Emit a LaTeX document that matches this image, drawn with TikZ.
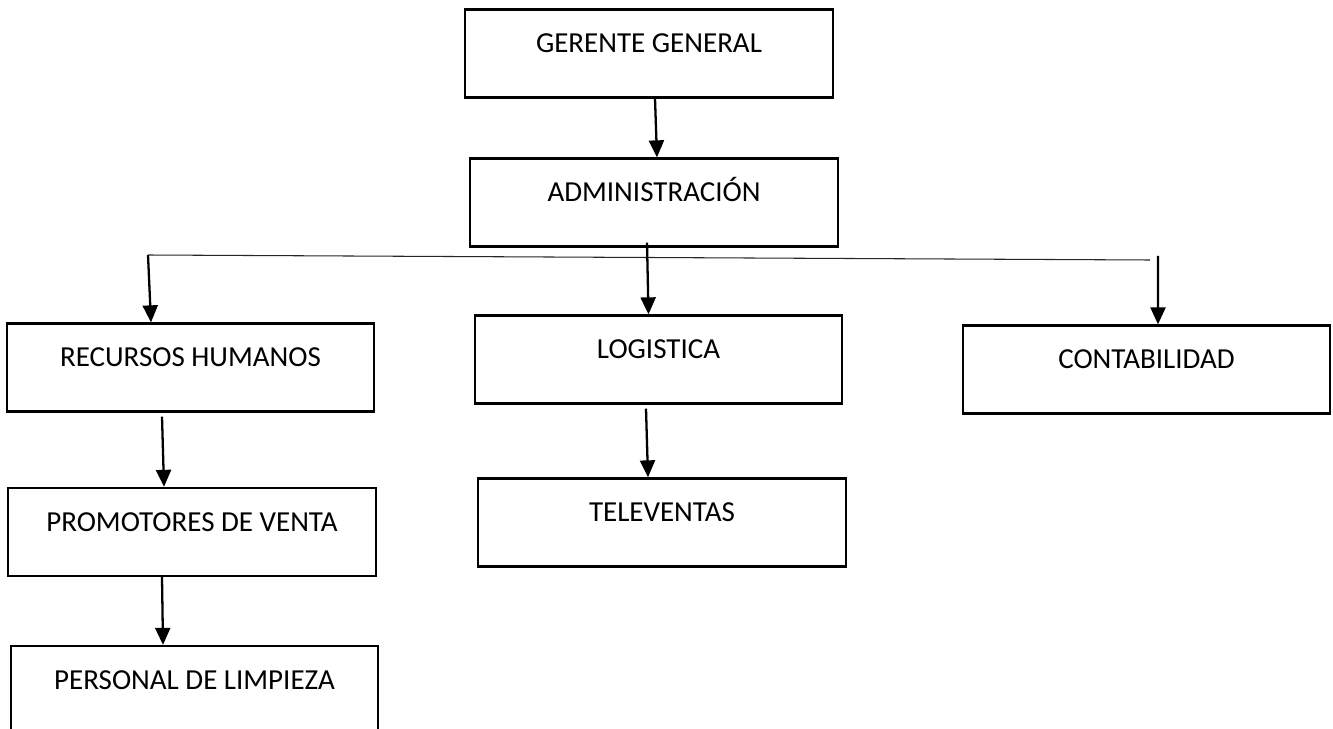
\documentclass[tikz,border=0pt]{standalone}
\usepackage{fontspec}
\setmainfont{Carlito}
\usetikzlibrary{arrows.meta}

\tikzset{
  area/.style={draw, line width=1.3pt, rectangle, inner sep=0pt,
    minimum width=7.35cm, text height=0.86cm, text depth=0.9cm,
    font=\fontsize{16.5}{19}\selectfont},
  arr/.style={-{Triangle[length=0.34cm,width=0.3cm]}, line width=1.3pt},
}

\begin{document}
\begin{tikzpicture}
\useasboundingbox (0,0) rectangle (26.66,-14.58);

\node[area] (gg) at (12.98,-1.07) {GERENTE GENERAL};
\node[area] (adm) at (13.08,-4.05) {ADMINISTRACIÓN};

\node[area] (rh) at (3.81,-7.35) {RECURSOS HUMANOS};
\node[area] (log) at (13.17,-7.19) {LOGISTICA};
\node[area] (cont) at (22.93,-7.39) {CONTABILIDAD};

\node[area] (prom) at (3.84,-10.64) {PROMOTORES DE VENTA};
\node[area] (tel) at (13.24,-10.45) {TELEVENTAS};
\node[area] (pers) at (3.89,-13.80) {PERSONAL DE LIMPIEZA};

\coordinate (hl) at (2.96,-5.10);
\coordinate (hr) at (23.0,-5.20);
\coordinate (cr) at (23.16,-5.12);

\draw[line width=0.6pt, black!85] (hl) -- (hr);

\draw[arr] ([xshift=0.12cm]gg.south) -- ([xshift=0.06cm]adm.north);
\draw[arr] ([xshift=-0.14cm,yshift=0.1cm]adm.south) -- ([xshift=-0.2cm]log.north);
\draw[arr] (hl) -- ([xshift=-0.79cm]rh.north);
\draw[arr] (cr) -- ([xshift=0.23cm]cont.north);

\draw[arr] ([xshift=-0.57cm,yshift=-0.08cm]rh.south) -- ([xshift=-0.56cm]prom.north);
\draw[arr] ([xshift=-0.6cm]prom.south) -- ([xshift=-0.63cm]pers.north);
\draw[arr] ([xshift=-0.25cm,yshift=-0.08cm]log.south) -- ([xshift=-0.28cm]tel.north);
\end{tikzpicture}
\end{document}
